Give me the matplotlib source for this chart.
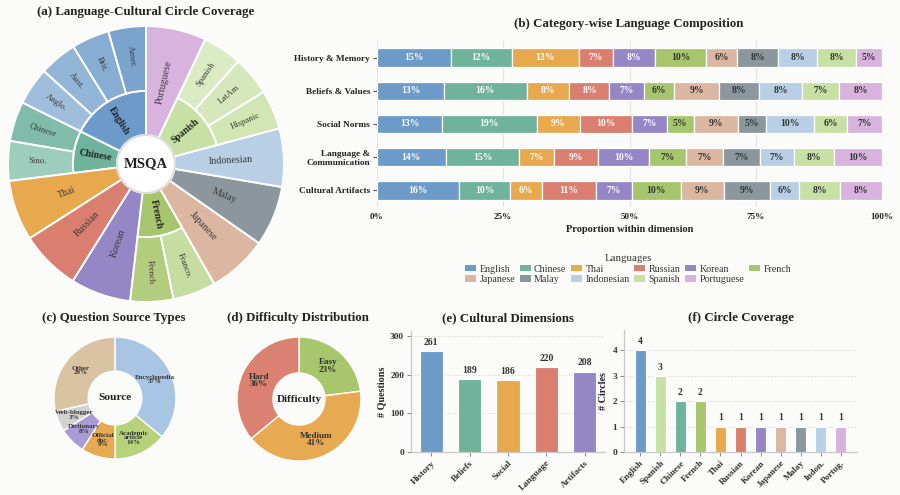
import matplotlib
matplotlib.use('Agg')
import matplotlib.pyplot as plt
from matplotlib.patches import Wedge, Circle, Patch
import numpy as np

plt.rcParams['font.family'] = ['Liberation Serif', 'DejaVu Serif']
plt.rcParams['axes.unicode_minus'] = False

W, H = 900, 495
BG = '#fbfbf9'
DARK = '#333333'

# ---------------- data ----------------
languages = ['English', 'Chinese', 'Thai', 'Russian', 'Korean', 'French',
             'Japanese', 'Malay', 'Indonesian', 'Spanish', 'Portuguese']

# (a) sunburst: angular span (deg) per language, sub-circles per language
sun_span_deg = [63.6, 33.5, 25.5, 25.4, 25.4, 36.3, 25.3, 25.4, 24.6, 49.6, 25.4]
sun_circles = [['Amer.', 'Brit.', 'Aust.', 'Anglo.'],
               ['Chinese', 'Sino.'],
               [], [], [],
               ['French', 'Franco.'],
               [], [], [],
               ['Hispanic', 'LatAm', 'Spanish'],
               []]

# (b) composition (%) per dimension, in language order
dimensions = ['History & Memory', 'Beliefs & Values', 'Social Norms',
              'Language &\nCommunication', 'Cultural Artifacts']
comp_history = [14.6, 12.1, 13.3, 6.7, 8.4, 10.2, 6.1, 8.1, 7.8, 7.6, 5.2]
comp_beliefs = [13.2, 16.4, 8.4, 7.9, 6.8, 5.9, 9.0, 7.9, 8.4, 7.4, 8.4]
comp_social = [12.8, 18.6, 8.6, 10.2, 6.8, 5.4, 8.7, 5.4, 9.6, 6.4, 6.9]
comp_language = [13.6, 14.6, 6.8, 8.7, 10.2, 7.3, 7.3, 7.3, 6.8, 7.8, 9.6]
comp_artifacts = [16.2, 10.2, 6.2, 10.7, 7.2, 9.6, 8.6, 9.1, 5.8, 8.1, 8.3]

# (c) question source types
source_names = ['Encyclopedia', 'Academic\narticle', 'Official\ndoc.',
                'Dictionary', 'Web-blogger', 'Other']
source_share = [36.0, 14.0, 9.0, 7.0, 5.5, 28.5]
source_pct_text = ['37%', '14%', '9%', '8%', '3%', '29%']

# (d) difficulty
difficulty = ['Easy', 'Medium', 'Hard']
difficulty_pct = [23, 41, 36]

# (e) cultural dimensions
dim_short = ['History', 'Beliefs', 'Social', 'Language', 'Artifacts']
dim_counts = [261, 189, 186, 220, 208]

# (f) circle coverage
cov_langs = ['English', 'Spanish', 'Chinese', 'French', 'Thai', 'Russian',
             'Korean', 'Japanese', 'Malay', 'Indon.', 'Portug.']
cov_counts = [4, 3, 2, 2, 1, 1, 1, 1, 1, 1, 1]

# ---------------- styles ----------------
lang_colors = {
    'English': '#6c9bc9', 'Chinese': '#6fb39d', 'Thai': '#e8a94e',
    'Russian': '#da7f70', 'Korean': '#9586c6', 'French': '#a7c56c',
    'Japanese': '#dbb7a1', 'Malay': '#8b979c', 'Indonesian': '#b8cfe6',
    'Spanish': '#c7e0a4', 'Portuguese': '#d8b3de'}
sub_colors = {
    'English': ['#7aa4cd', '#87add3', '#93b6d8', '#a0bedc'],
    'Chinese': ['#80bca9', '#9dcdbd'],
    'French': ['#b2cd7e', '#c6dca0'],
    'Spanish': ['#d2e6b4', '#d6e8bb', '#dbebc3']}
white_text = {'English', 'Chinese', 'Thai', 'Russian', 'Korean'}
source_colors = ['#a8c6e4', '#b7d27a', '#e8aa50', '#a99bd6', '#d2d2d2', '#d9c3a3']
difficulty_colors = ['#a8c66c', '#e8aa50', '#db8171']
cov_color_map = dict(lang_colors)
cov_color_map['Indon.'] = lang_colors['Indonesian']
cov_color_map['Portug.'] = lang_colors['Portuguese']

fig = plt.figure(figsize=(W / 100, H / 100), dpi=100, facecolor=BG)


def px_axes(x0, y0, x1, y1):
    """axes from pixel box (top-left origin)"""
    return fig.add_axes([x0 / W, 1 - y1 / H, (x1 - x0) / W, (y1 - y0) / H])


def ftitle(x, y, s, size=9.3):
    fig.text(x / W, 1 - y / H, s, ha='center', va='center', fontsize=size,
             fontweight='bold', color='#222222')


def radial_rot(theta):
    t = theta % 360
    if 90 < t < 270:
        return t - 180
    return t if t <= 90 else t - 360


# ---------------- (a) sunburst ----------------
cx, cy, R = 146, 164, 138
axa = px_axes(cx - R, cy - R, cx + R, cy + R)
axa.set_xlim(-1, 1)
axa.set_ylim(-1, 1)
axa.axis('off')
r_hole, r_mid = 0.21, 0.53
theta = 90.0
for lang, span, subs in zip(languages, sun_span_deg, sun_circles):
    t1, t2 = theta, theta + span
    col = lang_colors[lang]
    if subs:
        axa.add_patch(Wedge((0, 0), r_mid, t1, t2, width=r_mid - r_hole,
                            facecolor=col, edgecolor='white', linewidth=1.4))
        tm = np.deg2rad((t1 + t2) / 2)
        rr = (r_mid + r_hole) / 2
        axa.text(rr * np.cos(tm), rr * np.sin(tm), lang, ha='center', va='center',
                 rotation=radial_rot((t1 + t2) / 2), rotation_mode='anchor',
                 fontsize=7.0, fontweight='bold', color='#222222')
        sub_span = span / len(subs)
        for k, (sname, scol) in enumerate(zip(subs, sub_colors[lang])):
            s1 = t1 + k * sub_span
            s2 = s1 + sub_span
            axa.add_patch(Wedge((0, 0), 1.0, s1, s2, width=1.0 - r_mid,
                                facecolor=scol, edgecolor='white', linewidth=1.4))
            sm = (s1 + s2) / 2
            rr = (1.0 + r_mid) / 2 + 0.02
            axa.text(rr * np.cos(np.deg2rad(sm)), rr * np.sin(np.deg2rad(sm)), sname,
                     ha='center', va='center', rotation=radial_rot(sm),
                     rotation_mode='anchor', fontsize=6.3, color='#3a3a3a')
    else:
        axa.add_patch(Wedge((0, 0), 1.0, t1, t2, width=1.0 - r_hole,
                            facecolor=col, edgecolor='white', linewidth=1.4))
        tm = (t1 + t2) / 2
        rr = 0.61
        axa.text(rr * np.cos(np.deg2rad(tm)), rr * np.sin(np.deg2rad(tm)), lang,
                 ha='center', va='center', rotation=radial_rot(tm),
                 rotation_mode='anchor', fontsize=7.2, color='#3a3a3a')
    theta = t2
axa.add_patch(Circle((0, 0), r_hole, facecolor='white', edgecolor='#dddddd',
                     linewidth=1.5, zorder=5))
axa.text(0, 0, 'MSQA', ha='center', va='center', fontsize=10.5,
         fontweight='bold', color='#222222', zorder=6)
ftitle(146, 12, '(a) Language-Cultural Circle Coverage')

# ---------------- (b) stacked bars ----------------
axb = px_axes(377, 41, 882, 207)
axb.set_facecolor(BG)
rows = [comp_history, comp_beliefs, comp_social, comp_language, comp_artifacts]
ypos = np.arange(len(dimensions))
for i, row in enumerate(rows):
    vals = np.array(row, dtype=float)
    frac = vals / vals.sum()
    left = 0.0
    for j, (lang, f, v) in enumerate(zip(languages, frac, vals)):
        axb.barh(i, f, left=left, height=0.55, color=lang_colors[lang],
                 edgecolor='white', linewidth=0.9, zorder=3)
        axb.text(left + f / 2, i, f'{v:.0f}%', ha='center', va='center',
                 fontsize=6.9, fontweight='bold', zorder=4,
                 color='white' if lang in white_text else DARK)
        left += f
axb.set_ylim(len(dimensions) - 0.5, -0.5)
axb.set_xlim(0, 1)
axb.set_yticks(ypos)
axb.set_yticklabels(dimensions, fontsize=6.7, fontweight='bold', color='#222222')
axb.set_xticks([0, 0.25, 0.5, 0.75, 1.0])
axb.set_xticklabels(['0%', '25%', '50%', '75%', '100%'], fontsize=6.6,
                    fontweight='bold', color='#222222')
axb.tick_params(axis='y', length=3, color='#555555', pad=2)
axb.tick_params(axis='x', length=0, pad=4)
for s in axb.spines.values():
    s.set_visible(False)
axb.grid(axis='x', color='#e2e2e2', linewidth=0.8, zorder=0)
axb.set_axisbelow(True)
axb.set_xlabel('Proportion within dimension', fontsize=7.5, fontweight='bold',
               color='#222222', labelpad=3)
ftitle(629, 24, '(b) Category-wise Language Composition')

# legend (row-major order in 6 columns)
order = [0, 6, 1, 7, 2, 8, 3, 9, 4, 10, 5]
handles = [Patch(facecolor=lang_colors[languages[k]], edgecolor='none') for k in order]
labels = [languages[k] for k in order]
leg = fig.legend(handles, labels, loc='upper center',
                 bbox_to_anchor=(628 / W, 1 - 248 / H), ncol=6, frameon=False,
                 fontsize=7.2, title='Languages', title_fontsize=7.8,
                 handlelength=1.1, handleheight=0.65, handletextpad=0.35,
                 columnspacing=0.45, labelspacing=0.15, borderpad=0.1)
for t in leg.get_texts():
    t.set_color('#333333')
leg.get_title().set_color('#333333')

# ---------------- (c) source donut ----------------
ccx, ccy, cR = 115, 398, 61
axc = px_axes(ccx - cR, ccy - cR, ccx + cR, ccy + cR)
axc.axis('off')
wedges, _ = axc.pie(source_share, colors=source_colors, startangle=90,
                    counterclock=False, radius=1.0,
                    wedgeprops=dict(width=0.56, edgecolor='white', linewidth=1.0))
for w, name, pct in zip(wedges, source_names, source_pct_text):
    tm = np.deg2rad((w.theta1 + w.theta2) / 2)
    rr = 0.72
    axc.text(rr * np.cos(tm), rr * np.sin(tm), f'{name}\n{pct}', ha='center',
             va='center', fontsize=5.0, fontweight='bold', color=DARK,
             linespacing=0.85)
axc.text(0, 0, 'Source', ha='center', va='center', fontsize=8.2,
         fontweight='bold', color='#222222')
axc.set_aspect('auto')
axc.set_xlim(-1, 1)
axc.set_ylim(-1, 1)
ftitle(114, 318, '(c) Question Source Types')

# ---------------- (d) difficulty donut ----------------
dcx, dcy, dR = 299, 399, 62
axd = px_axes(dcx - dR, dcy - dR, dcx + dR, dcy + dR)
axd.axis('off')
wedges, _ = axd.pie(difficulty_pct, colors=difficulty_colors, startangle=90,
                    counterclock=False, radius=1.0,
                    wedgeprops=dict(width=0.58, edgecolor='white', linewidth=1.0))
for w, name, pct in zip(wedges, difficulty, difficulty_pct):
    tm = np.deg2rad((w.theta1 + w.theta2) / 2)
    rr = 0.71
    axd.text(rr * np.cos(tm), rr * np.sin(tm), f'{name}\n{pct}%', ha='center',
             va='center', fontsize=6.6, fontweight='bold', color=DARK,
             linespacing=0.9)
axd.text(0, 0, 'Difficulty', ha='center', va='center', fontsize=8.0,
         fontweight='bold', color='#222222')
axd.set_aspect('auto')
axd.set_xlim(-1, 1)
axd.set_ylim(-1, 1)
ftitle(298, 318, '(d) Difficulty Distribution')


def style_bar_axes(ax):
    ax.set_facecolor(BG)
    for s in ['top', 'right']:
        ax.spines[s].set_visible(False)
    for s in ['left', 'bottom']:
        ax.spines[s].set_color('#c8c8c8')
        ax.spines[s].set_linewidth(0.9)
    ax.grid(axis='y', linestyle=(0, (2, 2)), color='#d8d8d8', linewidth=0.6, zorder=0)
    ax.set_axisbelow(True)
    ax.tick_params(length=3, color='#888888', width=0.7, pad=2)
    for lab in ax.get_yticklabels():
        lab.set_fontweight('bold')


# ---------------- (e) cultural dimensions ----------------
axe = px_axes(411, 331, 605, 452)
xe = np.arange(len(dim_short))
axe.bar(xe, dim_counts, width=0.6, color=[lang_colors[l] for l in languages[:5]],
        edgecolor='white', linewidth=0.8, zorder=3)
for x, v in zip(xe, dim_counts):
    axe.annotate(f'{v}', (x, v), xytext=(0, 3), textcoords='offset points',
                 ha='center', va='bottom', fontsize=6.9, fontweight='bold',
                 color=DARK)
axe.set_ylim(0, max(dim_counts) * 1.2)
axe.set_yticks([0, 100, 200, 300])
axe.set_yticklabels(['0', '100', '200', '300'], fontsize=6.7, fontweight='bold',
                    color='#333333')
axe.set_xticks(xe)
axe.set_xticklabels(dim_short, rotation=45, ha='right', rotation_mode='anchor',
                    fontsize=6.7, fontweight='bold', color='#333333')
axe.set_ylabel('# Questions', fontsize=7.3, fontweight='bold', color='#222222',
               labelpad=3)
style_bar_axes(axe)
ftitle(508, 318, '(e) Cultural Dimensions')

# ---------------- (f) circle coverage ----------------
axf = px_axes(624, 330, 857, 452)
xf = np.arange(len(cov_langs))
axf.bar(xf, cov_counts, width=0.55, color=[cov_color_map[l] for l in cov_langs],
        edgecolor='white', linewidth=0.8, zorder=3)
for x, v in zip(xf, cov_counts):
    axf.annotate(f'{v}', (x, v), xytext=(0, 3), textcoords='offset points',
                 ha='center', va='bottom', fontsize=6.9, fontweight='bold',
                 color=DARK)
axf.set_ylim(0, max(cov_counts) * 1.2)
axf.set_yticks([0, 1, 2, 3, 4])
axf.set_yticklabels(['0', '1', '2', '3', '4'], fontsize=6.7, fontweight='bold',
                    color='#333333')
axf.set_xticks(xf)
axf.set_xticklabels(cov_langs, rotation=45, ha='right', rotation_mode='anchor',
                    fontsize=6.5, fontweight='bold', color='#333333')
axf.set_ylabel('# Circles', fontsize=7.3, fontweight='bold', color='#222222',
               labelpad=3)
style_bar_axes(axf)
ftitle(741, 318, '(f) Circle Coverage')

fig.savefig('out.png', dpi=100, facecolor=BG)
